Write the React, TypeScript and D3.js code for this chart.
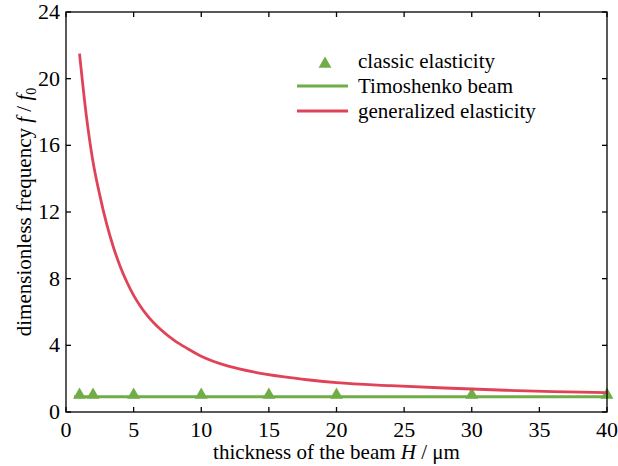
import React from "react";
import * as d3 from "d3";

// generalized elasticity
const genH = [1, 1.5, 2, 2.5, 3, 3.5, 4, 4.5, 5, 5.5, 6, 7, 8, 9, 10, 12, 14, 16, 18, 20, 24, 28, 32, 36, 40];
const genF = [21.5, 17.8, 15.0, 13.0, 11.3, 9.9, 8.75, 7.8, 7.0, 6.35, 5.8, 4.95, 4.3, 3.8, 3.35, 2.75, 2.38, 2.12, 1.92, 1.76, 1.58, 1.44, 1.32, 1.22, 1.16];

// Timoshenko beam
const timoH = [0.6, 40];
const timoF = [0.92, 0.92];

// classic elasticity
const classicH = [1, 2, 5, 10, 15, 20, 30, 40];
const classicF = [1.02, 1.02, 1.02, 1.02, 1.02, 1.02, 1.02, 1.02];

const xTicks = [0, 5, 10, 15, 20, 25, 30, 35, 40];
const yTicks = [0, 4, 8, 12, 16, 20, 24];

const RED = "#e04358";
const GREEN = "#70ad47";
const FONT = { fontFamily: '"Liberation Serif", serif' };

export default function App() {
  const width = 618;
  const height = 466;
  const m = { left: 66, right: 11, top: 12, bottom: 54 };
  const x = d3.scaleLinear().domain([0, 40]).range([m.left, width - m.right]);
  const y = d3.scaleLinear().domain([0, 24]).range([height - m.bottom, m.top]);

  const line = d3
    .line<[number, number]>()
    .x((d) => x(d[0]))
    .y((d) => y(d[1]))
    .curve(d3.curveMonotoneX);

  const genPts = genH.map((h, i) => [h, genF[i]] as [number, number]);
  const timoPts = timoH.map((h, i) => [h, timoF[i]] as [number, number]);
  const tri = d3.symbol().type(d3.symbolTriangle).size(72)();

  const x0 = x(0), x1 = x(40), y0 = y(0), y1 = y(24);
  const tl = 5;

  return (
    <svg width={width} height={height} style={{ position: "absolute", left: 0, top: 0 }}>
      <rect width={width} height={height} fill="white" />
      {/* curves */}
      <path d={line(timoPts) || ""} fill="none" stroke={GREEN} strokeWidth={3} />
      {classicH.map((h, i) => (
        <path key={i} d={tri || ""} transform={`translate(${x(h)},${y(classicF[i])})`} fill={GREEN} />
      ))}
      <path d={line(genPts) || ""} fill="none" stroke={RED} strokeWidth={2.8} />

      {/* frame */}
      <rect x={x0} y={y1} width={x1 - x0} height={y0 - y1} fill="none" stroke="black" strokeWidth={1.3} />
      {xTicks.map((t) => (
        <g key={"x" + t}>
          <line x1={x(t)} x2={x(t)} y1={y0} y2={y0 - tl} stroke="black" strokeWidth={1.3} />
          <line x1={x(t)} x2={x(t)} y1={y1} y2={y1 + tl} stroke="black" strokeWidth={1.3} />
          <text x={x(t)} y={y0 + 25} textAnchor="middle" fontSize={22} style={FONT}>{t}</text>
        </g>
      ))}
      {yTicks.map((t) => (
        <g key={"y" + t}>
          <line x1={x0} x2={x0 + tl} y1={y(t)} y2={y(t)} stroke="black" strokeWidth={1.3} />
          <line x1={x1} x2={x1 - tl} y1={y(t)} y2={y(t)} stroke="black" strokeWidth={1.3} />
          <text x={x0 - 6} y={y(t) + 7} textAnchor="end" fontSize={22} style={FONT}>{t}</text>
        </g>
      ))}

      {/* axis titles */}
      <text x={(x0 + x1) / 2} y={459} textAnchor="middle" fontSize={21} style={FONT}>
        thickness of the beam <tspan fontStyle="italic">H</tspan> / μm
      </text>
      <text transform={`translate(31,${(y0 + y1) / 2}) rotate(-90)`} textAnchor="middle" fontSize={21} style={FONT}>
        dimensionless frequency <tspan fontStyle="italic">f</tspan> / <tspan fontStyle="italic">f</tspan>
        <tspan fontSize={14} dy={5}>0</tspan>
      </text>

      {/* legend */}
      <path d={tri || ""} transform="translate(325,64)" fill={GREEN} />
      <text x={358} y={68} fontSize={21} style={FONT}>classic elasticity</text>
      <line x1={297} x2={348} y1={86} y2={86} stroke={GREEN} strokeWidth={3} />
      <text x={358} y={93} fontSize={21} style={FONT}>Timoshenko beam</text>
      <line x1={297} x2={348} y1={111} y2={111} stroke={RED} strokeWidth={3} />
      <text x={358} y={118} fontSize={21} style={FONT}>generalized elasticity</text>
    </svg>
  );
}
